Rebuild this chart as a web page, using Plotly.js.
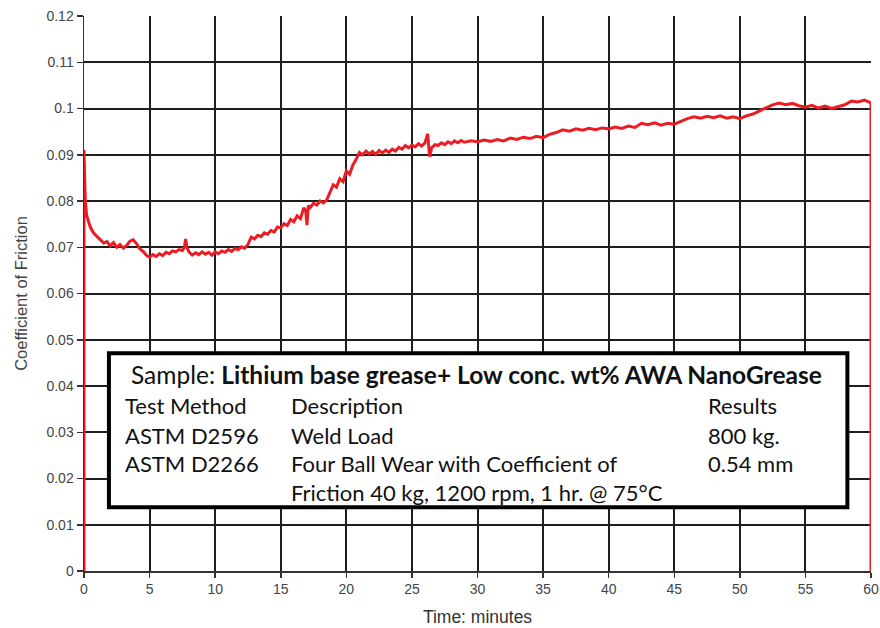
<!DOCTYPE html>
<html>
<head>
<meta charset="utf-8">
<script src="https://cdn.plot.ly/plotly-3.0.1.min.js"></script>
<style>html,body{margin:0;padding:0;background:#fff;}#chart{width:880px;height:628px;}</style>
</head>
<body>
<div id="chart"></div>
<script>
// Time (minutes)
const timeMin = [0,0,0.05,0.1,0.2,0.35,0.5,0.75,1.0,1.25,1.5,1.75,2.0,2.25,2.5,2.75,3.0,3.25,3.5,3.75,4.0,4.25,4.5,4.75,5.0,5.25,5.5,5.75,6.0,6.25,6.5,6.75,7.0,7.25,7.5,7.65,7.75,7.85,8.0,8.25,8.5,8.75,9.0,9.25,9.5,9.75,10.0,10.25,10.5,10.75,11.0,11.25,11.5,11.75,12.0,12.25,12.5,12.75,13.0,13.25,13.5,13.75,14.0,14.25,14.5,14.75,15.0,15.25,15.5,15.75,16.0,16.25,16.5,16.75,16.9,17.0,17.1,17.25,17.5,17.75,18.0,18.25,18.5,18.75,19.0,19.25,19.5,19.75,20.0,20.25,20.5,20.75,21.0,21.25,21.5,21.75,22.0,22.25,22.5,22.75,23.0,23.25,23.5,23.75,24.0,24.25,24.5,24.75,25.0,25.25,25.5,25.75,26.0,26.2,26.35,26.5,26.75,27.0,27.25,27.5,27.75,28.0,28.25,28.5,28.75,29.0,29.5,30.0,30.5,31.0,31.5,32.0,32.5,33.0,33.5,34.0,34.5,35.0,35.5,36.0,36.5,37.0,37.5,38.0,38.5,39.0,39.5,40.0,40.5,41.0,41.5,42.0,42.5,43.0,43.5,44.0,44.5,45.0,45.5,46.0,46.5,47.0,47.5,48.0,48.5,49.0,49.5,50.0,50.5,51.0,51.5,52.0,52.5,53.0,53.5,54.0,54.5,55.0,55.5,56.0,56.5,57.0,57.5,58.0,58.5,59.0,59.5,59.9,60,60];
// Coefficient of friction
const cof = [0,0.091,0.085,0.080,0.077,0.0755,0.0742,0.0730,0.0722,0.0716,0.0709,0.0712,0.0703,0.0710,0.0700,0.0706,0.0698,0.0704,0.0713,0.0716,0.0708,0.0697,0.0691,0.0683,0.0678,0.0684,0.0680,0.0686,0.0682,0.0689,0.0686,0.0692,0.0690,0.0695,0.0693,0.0700,0.0718,0.0700,0.0690,0.0683,0.0688,0.0684,0.0690,0.0685,0.0689,0.0683,0.0690,0.0686,0.0692,0.0689,0.0695,0.0691,0.0697,0.0695,0.0701,0.0698,0.0706,0.0722,0.0718,0.0726,0.0723,0.0731,0.0728,0.0736,0.0733,0.0744,0.0742,0.0751,0.0747,0.0760,0.0755,0.0768,0.0762,0.0785,0.0780,0.0748,0.0790,0.0786,0.0795,0.0791,0.0800,0.0796,0.0802,0.0818,0.0835,0.0830,0.0848,0.0842,0.0865,0.0858,0.0878,0.0890,0.0905,0.0900,0.0908,0.0902,0.0907,0.0901,0.0909,0.0904,0.0910,0.0905,0.0912,0.0908,0.0916,0.0912,0.0920,0.0915,0.0921,0.0917,0.0924,0.0919,0.0926,0.0945,0.0896,0.0915,0.0922,0.0920,0.0926,0.0922,0.0928,0.0924,0.0930,0.0926,0.0931,0.0927,0.0930,0.0928,0.0932,0.0929,0.0933,0.0930,0.0936,0.0933,0.0938,0.0935,0.0940,0.0937,0.0944,0.0948,0.0954,0.0951,0.0956,0.0953,0.0957,0.0954,0.0958,0.0956,0.0960,0.0957,0.0962,0.0959,0.0968,0.0965,0.0969,0.0964,0.0968,0.0966,0.0972,0.0978,0.0982,0.0979,0.0983,0.0980,0.0984,0.0979,0.0982,0.0978,0.0984,0.0988,0.0995,0.1002,0.1008,0.1012,0.1008,0.1011,0.1006,0.1003,0.1007,0.1001,0.1005,0.1000,0.1004,0.1008,0.1016,0.1014,0.1018,0.1012,0.1012,0];

const xTicks = [0,5,10,15,20,25,30,35,40,45,50,55,60];
const yTicks = [0,0.01,0.02,0.03,0.04,0.05,0.06,0.07,0.08,0.09,0.1,0.11,0.12];
const yTickText = ["0","0.01","0.02","0.03","0.04","0.05","0.06","0.07","0.08","0.09","0.1","0.11","0.12"];

const sampleLabel = "Sample: <b>Lithium base grease+ Low conc. wt% AWA NanoGrease</b>";
const colMethod = ["Test Method","ASTM D2596","ASTM D2266"];
const colDesc = ["Description","Weld Load","Four Ball Wear with Coefficient of","Friction 40 kg, 1200 rpm, 1 hr. @ 75°C"];
const colResult = ["Results","800 kg.","0.54 mm"];

const rowY = [0.0357,0.0294,0.02335,0.01708];
const boxFont = {family:"Lato, 'Open Sans', sans-serif", size:22, color:"#111"};
const sampleFont = {family:"Lato, 'Open Sans', sans-serif", size:24.5, color:"#111"};

const annotations = [];
annotations.push({x:29.96, y:0.04238, xref:"x", yref:"y", text:sampleLabel, showarrow:false, xanchor:"center", yanchor:"middle", font:sampleFont});
colMethod.forEach((t,i)=>annotations.push({x:2.97, y:rowY[i], xref:"x", yref:"y", text:t, showarrow:false, xanchor:"left", yanchor:"middle", font:boxFont}));
colDesc.forEach((t,i)=>annotations.push({x:15.63, y:rowY[i], xref:"x", yref:"y", text:t, showarrow:false, xanchor:"left", yanchor:"middle", font:boxFont}));
colResult.forEach((t,i)=>annotations.push({x:47.42, y:rowY[i], xref:"x", yref:"y", text:t, showarrow:false, xanchor:"left", yanchor:"middle", font:boxFont}));

const trace = {
  x: timeMin, y: cof, type: "scatter", mode: "lines",
  line: {color: "rgb(236,28,36)", width: 3},
  hoverinfo: "skip", showlegend: false
};

const axisFont = {family:"'Liberation Sans', Arial, sans-serif", size:14, color:"#444"};

const layout = {
  width: 880, height: 628,
  margin: {l:84, r:9, t:16, b:57},
  paper_bgcolor: "#fff", plot_bgcolor: "#fff",
  showlegend: false,
  xaxis: {
    range: [0,60], tickvals: xTicks, ticktext: xTicks.map(String),
    showgrid: true, gridcolor: "#1e1e1e", gridwidth: 2,
    zeroline: false, showline: true, linecolor: "#333", linewidth: 1.5,
    ticks: "outside", ticklen: 5, tickcolor: "#333", tickwidth: 1.5,
    tickfont: axisFont, fixedrange: true,
    title: {text: "Time: minutes", font: {family:"'Liberation Sans', Arial, sans-serif", size:17.5, color:"#333"}, standoff: 14}
  },
  yaxis: {
    range: [0,0.12], tickvals: yTicks, ticktext: yTickText,
    showgrid: true, gridcolor: "#1e1e1e", gridwidth: 2,
    zeroline: false, showline: true, linecolor: "#333", linewidth: 1.5,
    ticks: "outside", ticklen: 6, tickcolor: "#333", tickwidth: 1.5,
    tickfont: axisFont, fixedrange: true,
    title: {text: "Coefficient of Friction", font: {family:"'Liberation Sans', Arial, sans-serif", size:16.5, color:"#444"}, standoff: 14}
  },
  shapes: [{
    type: "rect", xref: "x", yref: "y", x0: 1.9, x1: 58.2, y0: 0.0138, y1: 0.0471,
    fillcolor: "#fff", line: {color: "#000", width: 4}, layer: "above"
  }],
  annotations: annotations
};

Plotly.newPlot("chart", [trace], layout, {staticPlot: true, displayModeBar: false});
</script>
</body>
</html>
